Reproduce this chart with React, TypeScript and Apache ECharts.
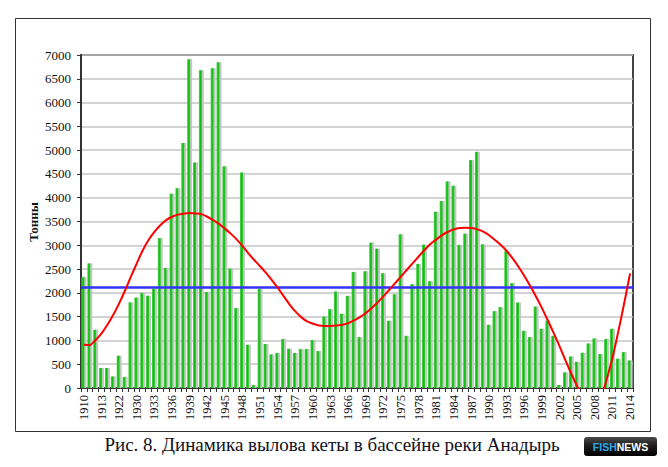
import React, { useEffect, useRef } from "react";
import * as echarts from "echarts";

const years: string[] = [
  "1910", "1911", "1912", "1913", "1915", "1920", "1922", "1926", "1929",
  "1930", "1931", "1932", "1933", "1934", "1935", "1936", "1937", "1938", "1939",
  "1940", "1941", "1942", "1943", "1944", "1945", "1946", "1947", "1948", "1949",
  "1950", "1951", "1952", "1953", "1954", "1955", "1956", "1957", "1958", "1959",
  "1960", "1961", "1962", "1963", "1964", "1965", "1966", "1967", "1968", "1969",
  "1970", "1971", "1972", "1973", "1974", "1975", "1976", "1977", "1978", "1979",
  "1980", "1981", "1982", "1983", "1984", "1985", "1986", "1987", "1988", "1989",
  "1990", "1991", "1992", "1993", "1994", "1995", "1996", "1997", "1998", "1999",
  "2000", "2001", "2002", "2003", "2004", "2005", "2006", "2007", "2008", "2009",
  "2010", "2011", "2012", "2013", "2014",
];

const catch_t: number[] = [
  2330, 2620, 1225, 420, 420, 245, 680, 230, 1800,
  1900, 2000, 1940, 2090, 3150, 2525, 4085, 4200, 5150, 6910,
  4740, 6680, 2020, 6720, 6850, 4660, 2510, 1680, 4530, 910,
  63, 2080, 925, 706, 735, 1028, 825, 735, 818, 818,
  1007, 776, 1503, 1657, 2028, 1560, 1937, 2440, 1070, 2455,
  3056, 2930, 2413, 1413, 1972, 3231, 1098, 2182, 2608, 3014,
  2245, 3706, 3930, 4343, 4252, 3007, 3245, 4790, 4965, 3021,
  1329, 1615, 1700, 2888, 2203, 1797, 1203, 1070, 1713, 1245,
  1420, 1098, 63, 329, 664, 552, 741, 937, 1042, 713,
  1028, 1245, 615, 755, 580,
];

const trend: number[] = [
  910, 905, 1010, 1150, 1330, 1540, 1780, 2050, 2340,
  2620, 2890, 3110, 3280, 3420, 3530, 3600, 3645, 3665, 3678,
  3670, 3655, 3600, 3530, 3450, 3350, 3245, 3125, 2985, 2830,
  2690, 2560, 2420, 2270, 2110, 1930, 1760, 1610, 1490, 1400,
  1350, 1315, 1305, 1305, 1315, 1330, 1365, 1420, 1490, 1575,
  1680, 1800, 1925, 2065, 2205, 2345, 2485, 2625, 2765, 2900,
  3025, 3125, 3215, 3285, 3335, 3362, 3370, 3362, 3335, 3287,
  3210, 3110, 3005, 2880, 2725, 2550, 2355, 2145, 1920, 1680,
  1420, 1155, 875, 580, 300, 35, -210, -370, -390, -220,
  175, 630, 1190, 1780, 2410,
];

const meanLevel = 2110;

const yAxisName = "Тонны";
const caption = "Рис. 8. Динамика вылова кеты в бассейне реки Анадырь";

const SERIF = "Liberation Serif";
const SANS = "Liberation Sans";

export default function App() {
  const ref = useRef<HTMLDivElement>(null);

  useEffect(() => {
    if (!ref.current) return;
    const chart = echarts.init(ref.current, null, { renderer: "svg" });
    const green = new echarts.graphic.LinearGradient(0, 0, 1, 0, [
      { offset: 0, color: "#5cd65c" },
      { offset: 0.5, color: "#0cbf0c" },
      { offset: 1, color: "#3cc83c" },
    ]);
    chart.setOption({
      animation: false,
      backgroundColor: "#ffffff",
      textStyle: { fontFamily: SERIF },
      grid: {
        left: 81,
        top: 55,
        width: 552,
        height: 333,
        show: true,
        borderColor: "#444444",
        borderWidth: 2,
        backgroundColor: "transparent",
      },
      xAxis: {
        type: "category",
        data: years,
        boundaryGap: true,
        axisLine: { show: true, lineStyle: { color: "#333333", width: 2 } },
        axisTick: { show: true, interval: 0, length: 4, lineStyle: { color: "#333333", width: 1 } },
        axisLabel: {
          interval: 2,
          rotate: 90,
          fontSize: 12.5,
          color: "#111111",
          fontFamily: SERIF,
          margin: 7,
        },
        splitLine: { show: false },
      },
      yAxis: {
        type: "value",
        min: 0,
        max: 7000,
        interval: 500,
        axisLine: { show: true, lineStyle: { color: "#333333", width: 2 } },
        axisTick: { show: true, length: 4, lineStyle: { color: "#333333", width: 1 } },
        axisLabel: {
          fontSize: 13,
          color: "#111111",
          fontFamily: SERIF,
          margin: 10,
          formatter: (v: number) => String(v),
        },
        splitLine: { show: true, lineStyle: { color: "#c4c4c4", width: 1.5 } },
      },
      series: [
        {
          type: "bar",
          data: catch_t,
          barWidth: 3,
          barGap: "-33%",
          itemStyle: { color: green },
          z: 3,
          markLine: {
            silent: true,
            symbol: "none",
            label: { show: false },
            lineStyle: { color: "#3333ff", width: 2.5, type: "solid" },
            data: [{ yAxis: meanLevel }],
            z: 5,
          },
        },
        {
          type: "bar",
          data: catch_t,
          barWidth: 3,
          itemStyle: { color: "#c6c6c6" },
          z: 2,
        },
        {
          type: "line",
          data: trend,
          smooth: 0.25,
          symbol: "none",
          clip: true,
          lineStyle: { color: "#ff0000", width: 2 },
          z: 6,
        },
      ],
      graphic: [
        {
          type: "rect",
          shape: { x: 15.5, y: 18.5, width: 635, height: 413 },
          style: { fill: "none", stroke: "#333333", lineWidth: 1 },
          silent: true,
          z: -1,
        },
        {
          type: "text",
          x: 33,
          y: 222,
          rotation: Math.PI / 2,
          style: {
            text: yAxisName,
            fontFamily: SERIF,
            fontSize: 13,
            fontWeight: "bold",
            fill: "#111111",
            align: "center",
            verticalAlign: "middle",
          },
        },
        {
          type: "text",
          x: 332,
          y: 444,
          style: {
            text: caption,
            fontFamily: SERIF,
            fontSize: 19,
            fill: "#111122",
            align: "center",
            verticalAlign: "middle",
          },
        },
        {
          type: "rect",
          shape: { x: 584, y: 437, width: 73, height: 19, r: 3 },
          style: {
            fill: new echarts.graphic.LinearGradient(0, 0, 0, 1, [
              { offset: 0, color: "#4a4a4a" },
              { offset: 0.5, color: "#1a1a1a" },
              { offset: 1, color: "#000000" },
            ]),
          },
        },
        {
          type: "text",
          x: 620.5,
          y: 446.5,
          style: {
            text: "{a|FISH}{b|NEWS}",
            align: "center",
            verticalAlign: "middle",
            rich: {
              a: { fill: "#2ea8ea", fontFamily: SANS, fontSize: 10.5, fontWeight: "bold" },
              b: { fill: "#ffffff", fontFamily: SANS, fontSize: 10.5, fontWeight: "bold" },
            },
          },
        },
      ],
    });
    return () => chart.dispose();
  }, []);

  return (
    <div
      ref={ref}
      style={{ position: "absolute", left: 0, top: 0, width: 668, height: 467, background: "#fff" }}
    />
  );
}
